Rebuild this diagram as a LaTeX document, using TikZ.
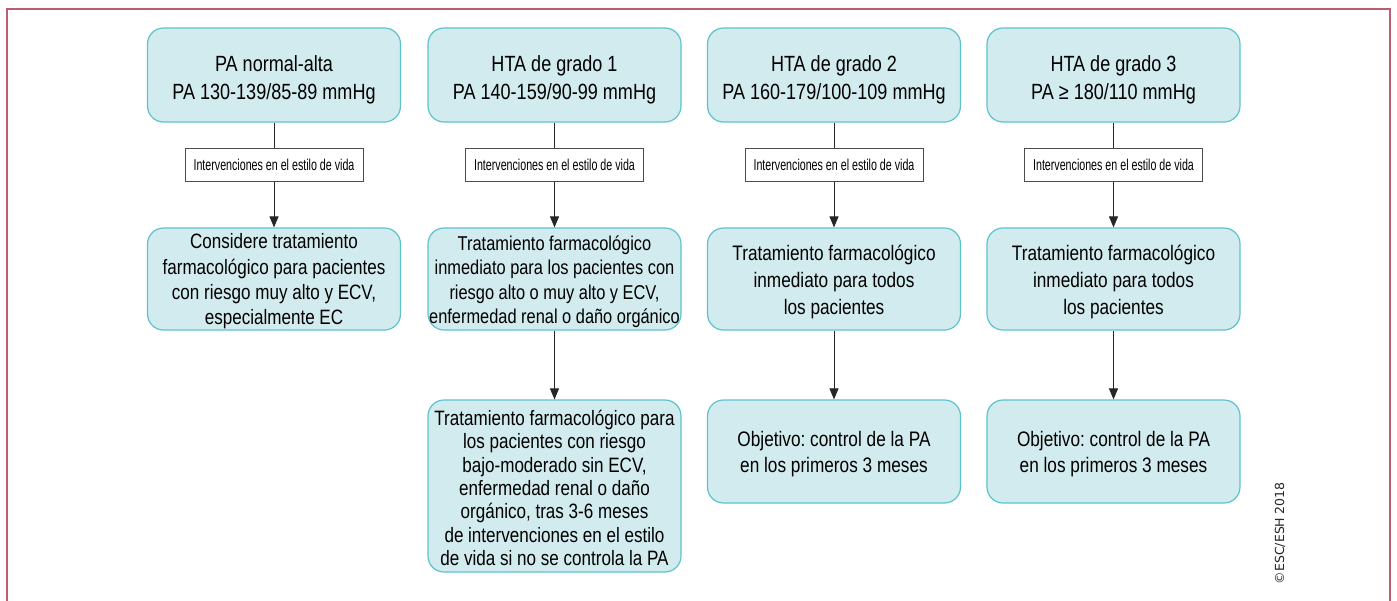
\documentclass[tikz,border=0pt]{standalone}
\usepackage{fontspec}
\setmainfont[FakeStretch=0.82]{Liberation Sans}
\newfontfamily\narrowfont[FakeStretch=0.68]{Liberation Sans}
\newfontfamily\copyfont{DejaVu Sans}
\frenchspacing
\usetikzlibrary{arrows.meta}
\definecolor{boxfill}{HTML}{D2EBEE}
\definecolor{boxline}{HTML}{5CC3CF}
\definecolor{framecol}{HTML}{BE5C72}
\tikzset{
  stage/.style={draw=boxline, fill=boxfill, line width=1.2pt, rounded corners=16pt,
    minimum width=253pt, inner sep=0pt},
  txt/.style={align=center, inner sep=0pt, text=black},
  lifestyle/.style={draw=black!70, fill=white, line width=0.8pt, minimum width=178pt,
    minimum height=33pt, inner sep=0pt, text=black, font=\narrowfont\fontsize{15.7}{18}\selectfont},
  link/.style={draw=black!85, line width=1pt},
  flow/.style={link, -{Triangle[length=11pt,width=9pt]}},
}
\begin{document}
\begin{tikzpicture}[x=1pt,y=-1pt]
\useasboundingbox (0,0) rectangle (1397,600);
\fill[white] (0,0) rectangle (1397,600);
\draw[framecol, line width=2pt] (7,610) -- (7,9) -- (1390,9) -- (1390,610);

% Row 1
\node[stage, minimum height=94pt,
  label={[txt, yshift=-4.5pt, font=\fontsize{22}{28}\selectfont]center:{PA normal-alta\\PA 130-139/85-89 mmHg}}]
  (a1) at (274,75) {};
\node[stage, minimum height=94pt,
  label={[txt, yshift=-4.5pt, font=\fontsize{22}{28}\selectfont]center:{HTA de grado 1\\PA 140-159/90-99 mmHg}}]
  (a2) at (554.5,75) {};
\node[stage, minimum height=94pt,
  label={[txt, yshift=-4.5pt, font=\fontsize{22}{28}\selectfont]center:{HTA de grado 2\\PA 160-179/100-109 mmHg}}]
  (a3) at (834,75) {};
\node[stage, minimum height=94pt,
  label={[txt, yshift=-4.5pt, font=\fontsize{22}{28}\selectfont]center:{HTA de grado 3\\PA ≥ 180/110 mmHg}}]
  (a4) at (1113.5,75) {};

% Lifestyle labels
\node[lifestyle] (l1) at (274,165) {Intervenciones en el estilo de vida};
\node[lifestyle] (l2) at (554.5,165) {Intervenciones en el estilo de vida};
\node[lifestyle] (l3) at (834,165) {Intervenciones en el estilo de vida};
\node[lifestyle] (l4) at (1113.5,165) {Intervenciones en el estilo de vida};

% Row 2
\node[stage, minimum height=102pt,
  label={[txt, yshift=-2.5pt, font=\fontsize{20.8}{25.3}\selectfont]center:{Considere tratamiento\\farmacológico para pacientes\\con riesgo muy alto y ECV,\\especialmente EC}}]
  (b1) at (274,279) {};
\node[stage, minimum height=102pt,
  label={[txt, yshift=-2.5pt, font=\fontsize{20}{24.5}\selectfont]center:{Tratamiento farmacológico\\inmediato para los pacientes con\\riesgo alto o muy alto y ECV,\\enfermedad renal o daño orgánico}}]
  (b2) at (554.5,279) {};
\node[stage, minimum height=102pt,
  label={[txt, yshift=-2.5pt, font=\fontsize{21}{27}\selectfont]center:{Tratamiento farmacológico\\inmediato para todos\\los pacientes}}]
  (b3) at (834,279) {};
\node[stage, minimum height=102pt,
  label={[txt, yshift=-2.5pt, font=\fontsize{21}{27}\selectfont]center:{Tratamiento farmacológico\\inmediato para todos\\los pacientes}}]
  (b4) at (1113.5,279) {};

% Row 3
\node[stage, minimum height=172pt,
  label={[txt, yshift=-2pt, font=\fontsize{20.8}{23.3}\selectfont]center:{Tratamiento farmacológico para\\los pacientes con riesgo\\bajo-moderado sin ECV,\\enfermedad renal o daño\\orgánico, tras 3-6 meses\\de intervenciones en el estilo\\de vida si no se controla la PA}}]
  (c2) at (554.5,486) {};
\node[stage, minimum height=103pt,
  label={[txt, yshift=-2.5pt, font=\fontsize{21}{26}\selectfont]center:{Objetivo: control de la PA\\en los primeros 3 meses}}]
  (c3) at (834,451.5) {};
\node[stage, minimum height=103pt,
  label={[txt, yshift=-2.5pt, font=\fontsize{21}{26}\selectfont]center:{Objetivo: control de la PA\\en los primeros 3 meses}}]
  (c4) at (1113.5,451.5) {};

% Connectors
\foreach \i in {1,2,3,4}{
  \draw[link] (a\i) -- (l\i);
  \draw[flow] (l\i) -- (b\i);
}
\draw[flow] (b2) -- (c2);
\draw[flow] (b3) -- (c3);
\draw[flow] (b4) -- (c4);

\node[rotate=90, font=\copyfont\fontsize{12.5}{15}\selectfont, text=black!85] (copy) at (1280,533.5)
  {©ESC/ESH\hspace{3pt}2018};
\end{tikzpicture}
\end{document}
